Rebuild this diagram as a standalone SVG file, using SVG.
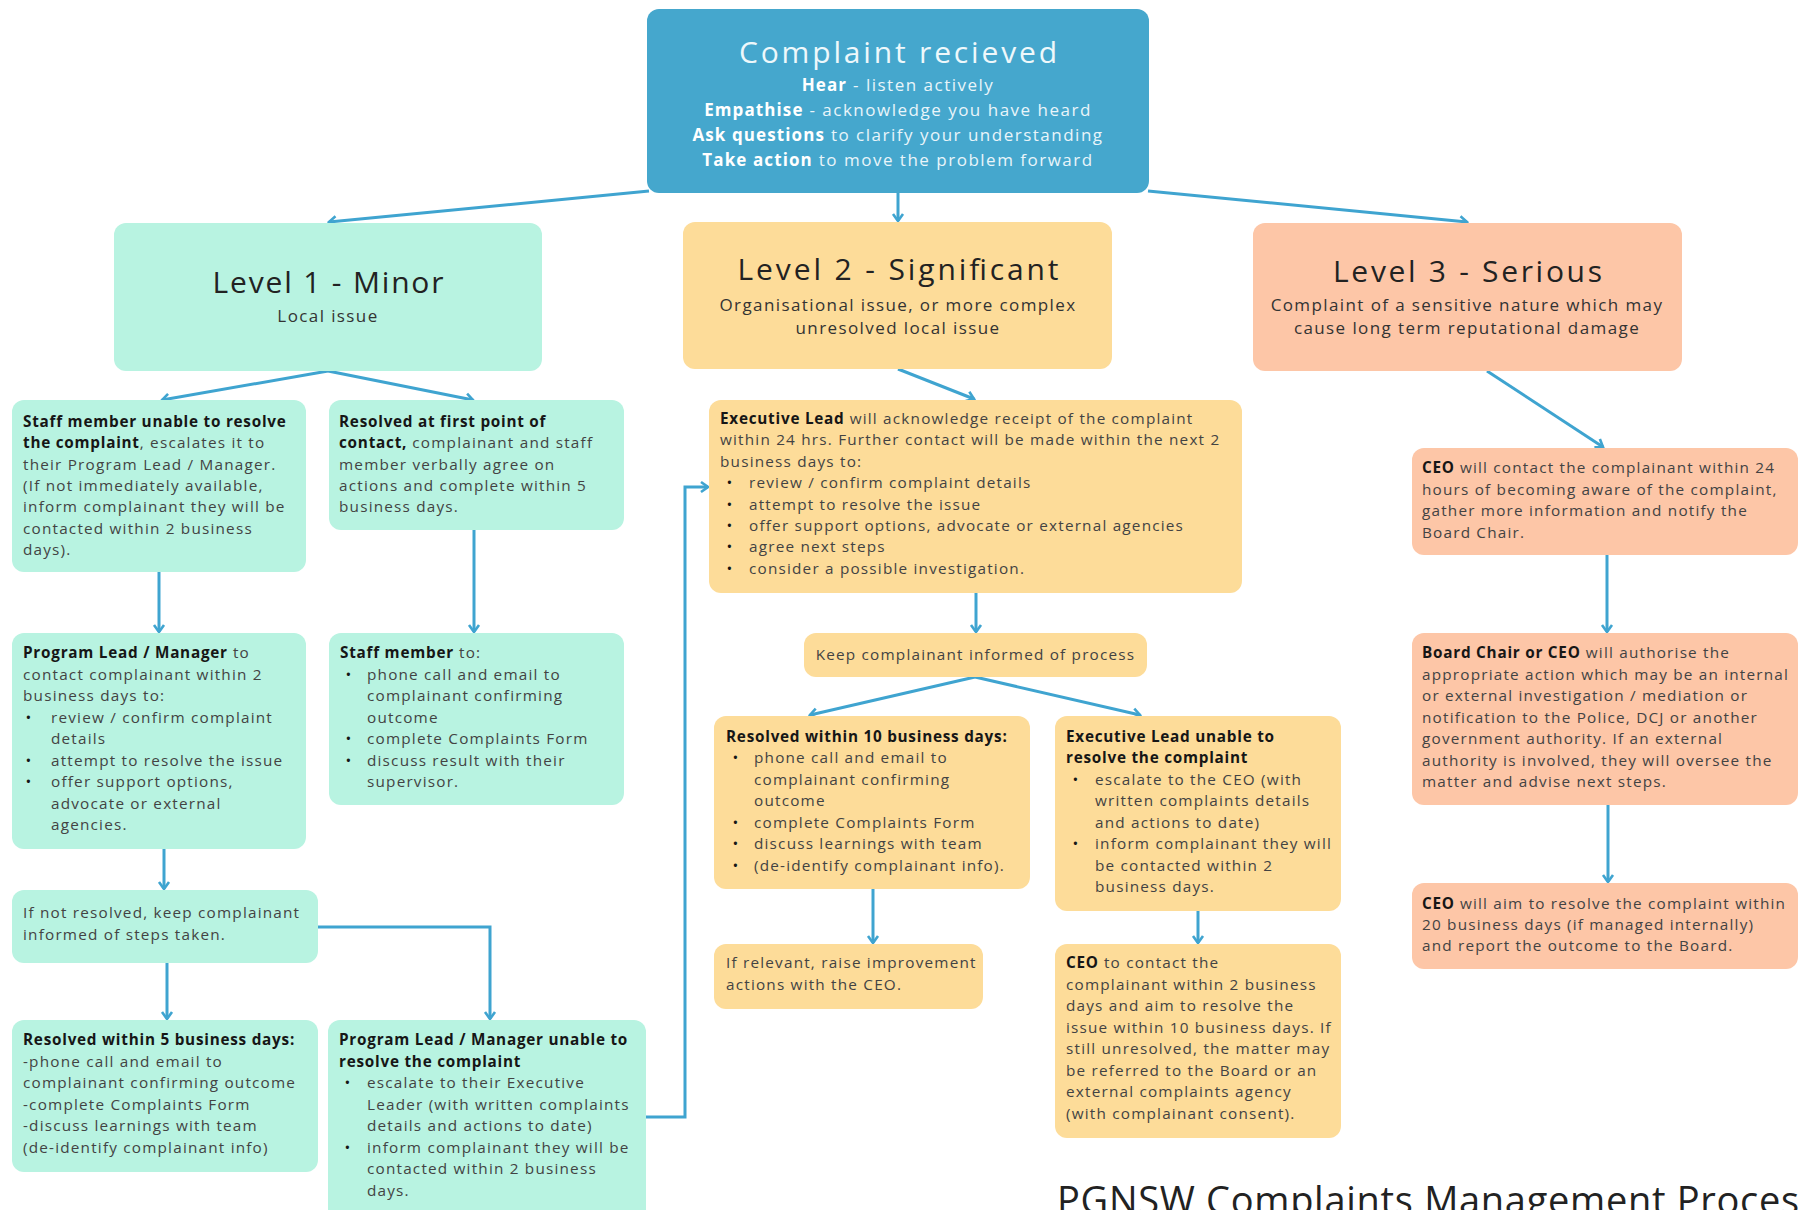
<svg xmlns="http://www.w3.org/2000/svg" width="1798" height="1210" viewBox="0 0 1798 1210">
<style>
text{font-family:"Open Sans","Liberation Sans",sans-serif;}
.t{font-size:15.3px;letter-spacing:1.2px;fill:#434343;}
.b{font-weight:700;fill:#161616;letter-spacing:0.75px;}
.h{font-size:30px;fill:#222;text-anchor:middle;}
.s{font-size:17px;letter-spacing:1.4px;fill:#333;text-anchor:middle;}
.w{font-size:17px;letter-spacing:1.5px;fill:#e9f5fa;text-anchor:middle;}
.wb{font-weight:700;fill:#ffffff;letter-spacing:1.1px;}
.top{fill:#45a7cd;}
.l1{fill:#b8f3e1;}
.l2{fill:#fddc99;}
.l3{fill:#fdc6a7;}
.c{fill:none;stroke:#3fa4d0;stroke-width:3;marker-end:url(#ah);}
.m{text-anchor:middle;}
</style>
<defs>
<marker id="ah" markerUnits="userSpaceOnUse" markerWidth="14" markerHeight="14" viewBox="0 0 14 14" refX="12" refY="7" orient="auto"><path d="M5,2 L12,7 L5,12" fill="none" stroke="#3fa4d0" stroke-width="2.6"/></marker>
</defs>
<rect width="1798" height="1210" fill="#ffffff"/>

<g id="connectors">
<path class="c" d="M649,191 L329,222"/>
<path class="c" d="M898,193 L898,221"/>
<path class="c" d="M1148,191 L1467,222"/>
<path class="c" d="M328,371 L162,400"/>
<path class="c" d="M328,371 L473,400"/>
<path class="c" d="M159,572 L159,632"/>
<path class="c" d="M474,530 L474,632"/>
<path class="c" d="M164,849 L164,889"/>
<path class="c" d="M167,963 L167,1019"/>
<path class="c" d="M318,927 L490,927 L490,1019"/>
<path class="c" d="M646,1117 L685,1117 L685,487 L708,487"/>
<path class="c" d="M898,369 L974,399"/>
<path class="c" d="M976,593 L976,632"/>
<path class="c" d="M975,677 L810,715"/>
<path class="c" d="M975,677 L1140,715"/>
<path class="c" d="M873,889 L873,943"/>
<path class="c" d="M1198,911 L1198,943"/>
<path class="c" d="M1487,371 L1603,447"/>
<path class="c" d="M1607,555 L1607,632"/>
<path class="c" d="M1608,805 L1608,882"/>
</g>

<g id="complaint-received">
<rect class="top" x="647" y="9" width="502" height="184" rx="12"/>
<text x="898" y="63" class="h" style="fill:#eef8fb" textLength="318" lengthAdjust="spacing">Complaint recieved</text>
<text class="w" x="898" y="91"><tspan class="wb">Hear</tspan> - listen actively</text>
<text class="w" x="898" y="115.5"><tspan class="wb">Empathise</tspan> - acknowledge you have heard</text>
<text class="w" x="898" y="140.5"><tspan class="wb">Ask questions</tspan> to clarify your understanding</text>
<text class="w" x="898" y="165.5"><tspan class="wb">Take action</tspan> to move the problem forward</text>
</g>

<g id="level-1">
<rect class="l1" x="114" y="223" width="428" height="148" rx="12"/>
<text class="h" x="328" y="293" textLength="231" lengthAdjust="spacing">Level 1 - Minor</text>
<text class="s" x="328" y="321.5">Local issue</text>
</g>

<g id="level-2">
<rect class="l2" x="683" y="222" width="429" height="147" rx="12"/>
<text class="h" x="898" y="280" textLength="321" lengthAdjust="spacing">Level 2 - Significant</text>
<text class="s" x="898" y="311">Organisational issue, or more complex</text>
<text class="s" x="898" y="334">unresolved local issue</text>
</g>

<g id="level-3">
<rect class="l3" x="1253" y="223" width="429" height="148" rx="12"/>
<text class="h" x="1467.5" y="281.5" textLength="269" lengthAdjust="spacing">Level 3 - Serious</text>
<text class="s" x="1467" y="311">Complaint of a sensitive nature which may</text>
<text class="s" x="1467" y="334">cause long term reputational damage</text>
</g>

<g id="staff-unable">
<rect class="l1" x="12" y="400" width="294" height="172" rx="12"/>
<text class="t">
<tspan x="23" y="427" class="b">Staff member unable to resolve</tspan>
<tspan x="23" y="448.3"><tspan class="b">the complaint</tspan>, escalates it to</tspan>
<tspan x="23" y="469.6">their Program Lead / Manager.</tspan>
<tspan x="23" y="490.9">(If not immediately available,</tspan>
<tspan x="23" y="512.2">inform complainant they will be</tspan>
<tspan x="23" y="533.5">contacted within 2 business</tspan>
<tspan x="23" y="554.8">days).</tspan>
</text>
</g>

<g id="resolved-first-contact">
<rect class="l1" x="329" y="400" width="295" height="130" rx="12"/>
<text class="t">
<tspan x="339" y="427" class="b">Resolved at first point of</tspan>
<tspan x="339" y="448.3"><tspan class="b">contact,</tspan> complainant and staff</tspan>
<tspan x="339" y="469.6">member verbally agree on</tspan>
<tspan x="339" y="490.9">actions and complete within 5</tspan>
<tspan x="339" y="512.2">business days.</tspan>
</text>
</g>

<g id="program-lead-contact">
<rect class="l1" x="12" y="633" width="294" height="216" rx="12"/>
<text class="t">
<tspan x="23" y="658"><tspan class="b">Program Lead / Manager</tspan> to</tspan>
<tspan x="23" y="679.5">contact complainant within 2</tspan>
<tspan x="23" y="701">business days to:</tspan>
<tspan x="51" y="722.5">review / confirm complaint</tspan>
<tspan x="51" y="744">details</tspan>
<tspan x="51" y="765.5">attempt to resolve the issue</tspan>
<tspan x="51" y="787">offer support options,</tspan>
<tspan x="51" y="808.5">advocate or external</tspan>
<tspan x="51" y="830">agencies.</tspan>
</text>
<text class="t m" style="fill:#161616"><tspan x="29" y="722.5">•</tspan><tspan x="29" y="765.5">•</tspan><tspan x="29" y="787">•</tspan></text>
</g>

<g id="staff-member-to">
<rect class="l1" x="329" y="633" width="295" height="172" rx="12"/>
<text class="t">
<tspan x="340" y="658"><tspan class="b">Staff member</tspan> to:</tspan>
<tspan x="367" y="679.5">phone call and email to</tspan>
<tspan x="367" y="701">complainant confirming</tspan>
<tspan x="367" y="722.5">outcome</tspan>
<tspan x="367" y="744">complete Complaints Form</tspan>
<tspan x="367" y="765.5">discuss result with their</tspan>
<tspan x="367" y="787">supervisor.</tspan>
</text>
<text class="t m" style="fill:#161616"><tspan x="349" y="679.5">•</tspan><tspan x="349" y="744">•</tspan><tspan x="349" y="765.5">•</tspan></text>
</g>

<g id="not-resolved">
<rect class="l1" x="12" y="890" width="306" height="73" rx="12"/>
<text class="t">
<tspan x="23" y="918">If not resolved, keep complainant</tspan>
<tspan x="23" y="940">informed of steps taken.</tspan>
</text>
</g>

<g id="resolved-5-days">
<rect class="l1" x="12" y="1020" width="306" height="152" rx="12"/>
<text class="t">
<tspan x="23" y="1045" class="b">Resolved within 5 business days:</tspan>
<tspan x="23" y="1066.5">-phone call and email to</tspan>
<tspan x="23" y="1088">complainant confirming outcome</tspan>
<tspan x="23" y="1109.5">-complete Complaints Form</tspan>
<tspan x="23" y="1131">-discuss learnings with team</tspan>
<tspan x="23" y="1152.5">(de-identify complainant info)</tspan>
</text>
</g>

<g id="program-lead-unable">
<rect class="l1" x="328" y="1020" width="318" height="210" rx="12"/>
<text class="t">
<tspan x="339" y="1045" class="b">Program Lead / Manager unable to</tspan>
<tspan x="339" y="1066.5" class="b">resolve the complaint</tspan>
<tspan x="367" y="1088">escalate to their Executive</tspan>
<tspan x="367" y="1109.5">Leader (with written complaints</tspan>
<tspan x="367" y="1131">details and actions to date)</tspan>
<tspan x="367" y="1152.5">inform complainant they will be</tspan>
<tspan x="367" y="1174">contacted within 2 business</tspan>
<tspan x="367" y="1195.5">days.</tspan>
</text>
<text class="t m" style="fill:#161616"><tspan x="348" y="1088">•</tspan><tspan x="348" y="1152.5">•</tspan></text>
</g>

<g id="executive-lead">
<rect class="l2" x="709" y="400" width="533" height="193" rx="12"/>
<text class="t">
<tspan x="720" y="424"><tspan class="b">Executive Lead</tspan> will acknowledge receipt of the complaint</tspan>
<tspan x="720" y="445.4">within 24 hrs. Further contact will be made within the next 2</tspan>
<tspan x="720" y="466.8">business days to:</tspan>
<tspan x="749" y="488.2">review / confirm complaint details</tspan>
<tspan x="749" y="509.6">attempt to resolve the issue</tspan>
<tspan x="749" y="531">offer support options, advocate or external agencies</tspan>
<tspan x="749" y="552.4">agree next steps</tspan>
<tspan x="749" y="573.8">consider a possible investigation.</tspan>
</text>
<text class="t m" style="fill:#161616"><tspan x="730" y="488.2">•</tspan><tspan x="730" y="509.6">•</tspan><tspan x="730" y="531">•</tspan><tspan x="730" y="552.4">•</tspan><tspan x="730" y="573.8">•</tspan></text>
</g>

<g id="keep-informed">
<rect class="l2" x="804" y="633" width="343" height="44" rx="12"/>
<text class="t m" x="975.5" y="659.5">Keep complainant informed of process</text>
</g>

<g id="resolved-10-days">
<rect class="l2" x="714" y="716" width="316" height="173" rx="12"/>
<text class="t">
<tspan x="726" y="741.5" class="b">Resolved within 10 business days:</tspan>
<tspan x="754" y="763">phone call and email to</tspan>
<tspan x="754" y="784.5">complainant confirming</tspan>
<tspan x="754" y="806">outcome</tspan>
<tspan x="754" y="827.5">complete Complaints Form</tspan>
<tspan x="754" y="849">discuss learnings with team</tspan>
<tspan x="754" y="870.5">(de-identify complainant info).</tspan>
</text>
<text class="t m" style="fill:#161616"><tspan x="736" y="763">•</tspan><tspan x="736" y="827.5">•</tspan><tspan x="736" y="849">•</tspan><tspan x="736" y="870.5">•</tspan></text>
</g>

<g id="executive-lead-unable">
<rect class="l2" x="1055" y="716" width="286" height="195" rx="12"/>
<text class="t">
<tspan x="1066" y="741.5" class="b">Executive Lead unable to</tspan>
<tspan x="1066" y="763" class="b">resolve the complaint</tspan>
<tspan x="1095" y="784.5">escalate to the CEO (with</tspan>
<tspan x="1095" y="806">written complaints details</tspan>
<tspan x="1095" y="827.5">and actions to date)</tspan>
<tspan x="1095" y="849">inform complainant they will</tspan>
<tspan x="1095" y="870.5">be contacted within 2</tspan>
<tspan x="1095" y="892">business days.</tspan>
</text>
<text class="t m" style="fill:#161616"><tspan x="1076" y="784.5">•</tspan><tspan x="1076" y="849">•</tspan></text>
</g>

<g id="raise-improvement">
<rect class="l2" x="714" y="944" width="269" height="65" rx="12"/>
<text class="t">
<tspan x="726" y="968">If relevant, raise improvement</tspan>
<tspan x="726" y="990">actions with the CEO.</tspan>
</text>
</g>

<g id="ceo-contact">
<rect class="l2" x="1055" y="944" width="286" height="194" rx="12"/>
<text class="t">
<tspan x="1066" y="968"><tspan class="b">CEO</tspan> to contact the</tspan>
<tspan x="1066" y="989.5">complainant within 2 business</tspan>
<tspan x="1066" y="1011">days and aim to resolve the</tspan>
<tspan x="1066" y="1032.5">issue within 10 business days. If</tspan>
<tspan x="1066" y="1054">still unresolved, the matter may</tspan>
<tspan x="1066" y="1075.5">be referred to the Board or an</tspan>
<tspan x="1066" y="1097">external complaints agency</tspan>
<tspan x="1066" y="1118.5">(with complainant consent).</tspan>
</text>
</g>

<g id="ceo-24-hours">
<rect class="l3" x="1412" y="448" width="386" height="107" rx="12"/>
<text class="t">
<tspan x="1422" y="473"><tspan class="b">CEO</tspan> will contact the complainant within 24</tspan>
<tspan x="1422" y="494.5">hours of becoming aware of the complaint,</tspan>
<tspan x="1422" y="516">gather more information and notify the</tspan>
<tspan x="1422" y="537.5">Board Chair.</tspan>
</text>
</g>

<g id="board-chair">
<rect class="l3" x="1412" y="633" width="386" height="172" rx="12"/>
<text class="t">
<tspan x="1422" y="658"><tspan class="b">Board Chair or CEO</tspan> will authorise the</tspan>
<tspan x="1422" y="679.5">appropriate action which may be an internal</tspan>
<tspan x="1422" y="701">or external investigation / mediation or</tspan>
<tspan x="1422" y="722.5">notification to the Police, DCJ or another</tspan>
<tspan x="1422" y="744">government authority. If an external</tspan>
<tspan x="1422" y="765.5">authority is involved, they will oversee the</tspan>
<tspan x="1422" y="787">matter and advise next steps.</tspan>
</text>
</g>

<g id="ceo-resolve">
<rect class="l3" x="1412" y="883" width="386" height="86" rx="12"/>
<text class="t">
<tspan x="1422" y="909"><tspan class="b">CEO</tspan> will aim to resolve the complaint within</tspan>
<tspan x="1422" y="930">20 business days (if managed internally)</tspan>
<tspan x="1422" y="951">and report the outcome to the Board.</tspan>
</text>
</g>

<g id="title">
<text x="1057" y="1214" style="font-size:38px;letter-spacing:0.7px;fill:#222">PGNSW Complaints Management Process</text>
</g>
</svg>
